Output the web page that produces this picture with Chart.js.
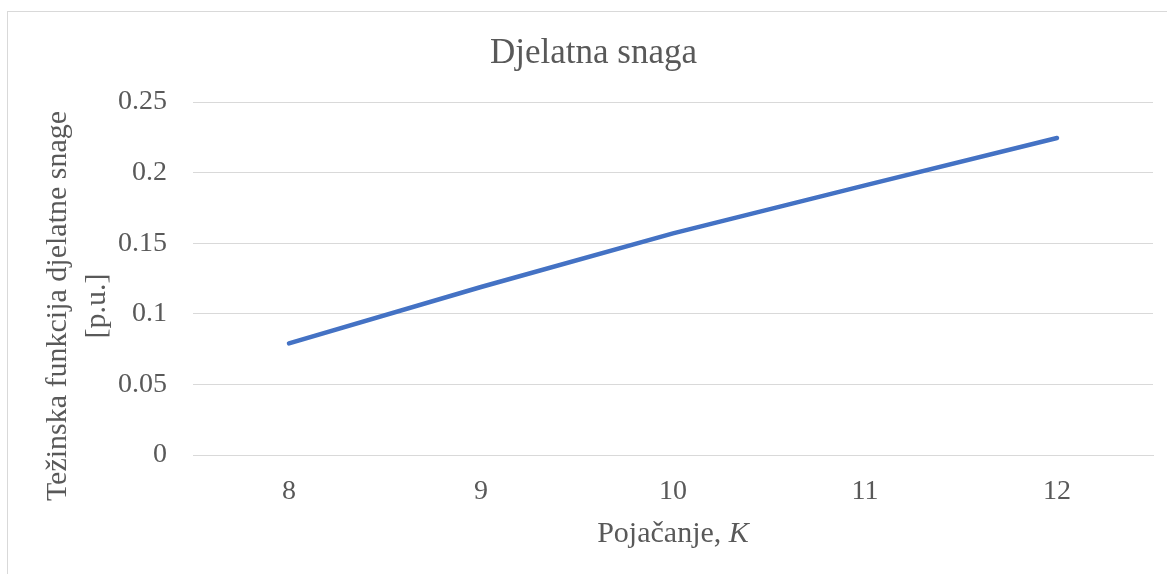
<!DOCTYPE html>
<html>
<head>
<meta charset="utf-8">
<script src="https://cdn.jsdelivr.net/npm/chart.js@4/dist/chart.umd.min.js"></script>
<style>
  body { margin: 0; background: #fff; }
  #box { position: absolute; left: 7px; top: 11px; border-top: 1px solid #d9d9d9; border-left: 1px solid #d9d9d9; }
  canvas { display: block; }
</style>
</head>
<body>
<div id="box"><canvas id="myChart" width="1159" height="562"></canvas></div>
<script>
// Pojačanje K vs. težinska funkcija djelatne snage
const kLabels = ['8', '9', '10', '11', '12']
const snaga = [0.079, 0.119, 0.157, 0.191, 0.2245]
const yTicks = ['0', '0.05', '0.1', '0.15', '0.2', '0.25']
const yTitle = ['Težinska funkcija djelatne snage', '[p.u.]']

const serif = "'Liberation Serif', 'Times New Roman', serif"
const grey = '#595959'

// axis titles drawn by hand: italic K on x, and Excel-like placement of the y title
const axisTitles = {
  id: 'axisTitles',
  afterDraw(chart) {
    const ctx = chart.ctx
    const area = chart.chartArea
    const a = 'Pojačanje, '
    const b = 'K'
    ctx.save()
    ctx.fillStyle = grey
    ctx.textBaseline = 'middle'
    ctx.font = '30px ' + serif
    const wa = ctx.measureText(a).width
    ctx.font = 'italic 30px ' + serif
    const wb = ctx.measureText(b).width
    let x = (area.left + area.right) / 2 - (wa + wb) / 2
    let y = chart.height - 40
    ctx.font = '30px ' + serif
    ctx.fillText(a, x, y)
    ctx.font = 'italic 30px ' + serif
    ctx.fillText(b, x + wa, y)

    // y title, two lines, rotated
    ctx.font = '30px ' + serif
    ctx.textAlign = 'center'
    ctx.translate(50, chart.height / 2 + 13)
    ctx.rotate(-Math.PI / 2)
    yTitle.forEach((t, i) => ctx.fillText(t, 0, i * 39))
    ctx.restore()
  },
}

let myChart = document.getElementById('myChart').getContext('2d')

let chart = new Chart(myChart, {
  type: 'line',
  data: {
    labels: kLabels,
    datasets: [
      {
        data: snaga,
        borderColor: '#4472C4',
        borderWidth: 4.5,
        borderCapStyle: 'round',
        pointRadius: 0,
        tension: 0,
      },
    ],
  },
  plugins: [axisTitles],
  options: {
    responsive: false,
    animation: false,
    layout: {
      padding: { left: 26, right: 14 },
    },
    plugins: {
      legend: { display: false },
      tooltip: { enabled: false },
      title: {
        display: true,
        text: 'Djelatna snaga',
        color: grey,
        font: { family: serif, size: 35, weight: 'normal', lineHeight: 1.2 },
        padding: { top: 21, bottom: 27 },
      },
    },
    scales: {
      x: {
        offset: true,
        grid: { display: false },
        border: { display: true, color: '#d9d9d9', width: 1 },
        ticks: {
          color: grey,
          padding: 12,
          maxRotation: 0,
          font: { family: serif, size: 28, lineHeight: 1.2 },
        },
        afterFit(scale) {
          scale.height = 119
        },
      },
      y: {
        min: 0,
        max: 0.25,
        border: { display: false },
        grid: { color: '#d9d9d9', lineWidth: 1, drawTicks: false },
        ticks: {
          stepSize: 0.05,
          color: grey,
          padding: 26,
          font: { family: serif, size: 28, lineHeight: 1.2 },
          callback: (v, i) => yTicks[i],
        },
        afterFit(scale) {
          scale.width = 159
        },
      },
    },
  },
})
</script>
</body>
</html>
